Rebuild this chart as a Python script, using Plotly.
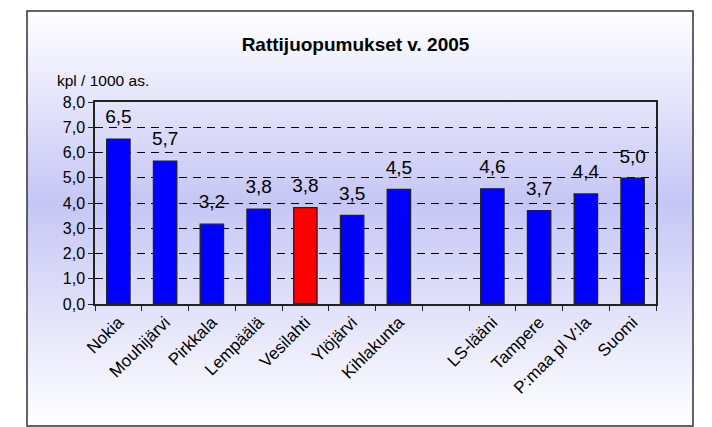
import base64
import plotly.graph_objects as go

# data
kunnat = ["Nokia", "Mouhijärvi", "Pirkkala", "Lempäälä", "Vesilahti", "Ylöjärvi",
          "Kihlakunta", " ", "LS-lääni", "Tampere", "P:maa pl V:la", "Suomi"]
arvot = [6.53, 5.66, 3.16, 3.76, 3.82, 3.51, 4.54, None, 4.56, 3.70, 4.36, 4.98]
korostus = "Vesilahti"
y_ticks = [0, 1, 2, 3, 4, 5, 6, 7, 8]

varit = ["#ff0000" if k == korostus else "#0000ff" for k in kunnat]
tekstit = ["" if v is None else f"{v:.1f}".replace(".", ",") for v in arvot]

# pixel layout (page has an 8px body margin, so figure coords = picture coords - 8)
W, H = 712, 427
OFF = 8
L, R, T, B = 95 - OFF, 656 - OFF, 102 - OFF, 304 - OFF
pw, ph = R - L, B - T
def px(x): return (x - OFF - L) / pw
def py(y): return (B - (y - OFF)) / ph

svg = ('<svg xmlns="http://www.w3.org/2000/svg" width="100" height="100" viewBox="0 0 100 100" '
       'preserveAspectRatio="none"><defs><linearGradient id="g" x1="0" y1="0" x2="0" y2="1">'
       '<stop offset="0" stop-color="#ffffff"/><stop offset="0.46" stop-color="#c6c6f6"/>'
       '<stop offset="1" stop-color="#ffffff"/></linearGradient></defs>'
       '<rect width="100" height="100" fill="url(#g)"/></svg>')
gradient = "data:image/svg+xml;base64," + base64.b64encode(svg.encode()).decode()

fig = go.Figure()
fig.add_trace(go.Bar(
    x=kunnat, y=arvot,
    marker=dict(color=varit, line=dict(color="#222222", width=1.3)),
    width=0.5,
    hoverinfo="x+y",
))
# value labels on a shifted copy of the y axis so they sit a bit above the bars
shift = 11 / ph * 8
fig.add_trace(go.Scatter(
    x=kunnat, y=arvot, yaxis="y2",
    mode="text", text=tekstit, textposition="top center",
    textfont=dict(family="Liberation Sans, Arial", size=19, color="black"),
    cliponaxis=False, hoverinfo="skip",
))

fig.update_layout(
    width=W, height=H,
    margin=dict(l=L, r=W - R, t=T, b=H - B),
    paper_bgcolor="white", plot_bgcolor="white",
    showlegend=False,
    font=dict(family="Liberation Sans, Arial", color="black"),
    title=dict(text="Rattijuopumukset v. 2005", x=(355.5 - OFF) / W, xanchor="center",
               y=1 - (44 - OFF) / H, yanchor="middle",
               font=dict(size=19, weight="bold", color="black")),
    xaxis=dict(
        type="category", categoryorder="array", categoryarray=kunnat,
        range=[-0.5, len(kunnat) - 0.5],
        showline=True, linecolor="#222222", linewidth=1.5, mirror=True,
        ticks="outside", tickson="boundaries", ticklen=5, tickcolor="#222222",
        tickangle=-45, tickfont=dict(size=17, color="black"),
        showgrid=False,
    ),
    yaxis=dict(
        range=[0, 8], tickvals=y_ticks, tickformat=".1f",
        showline=True, linecolor="#222222", linewidth=1.5, mirror=True,
        ticks="outside", ticklen=5, tickcolor="#222222",
        tickfont=dict(size=16, color="black"),
        showgrid=True, gridcolor="black", gridwidth=1, griddash="8px,6px",
        zeroline=False,
    ),
    yaxis2=dict(overlaying="y", range=[-shift, 8 - shift], visible=False),
    separators=", ",
    images=[dict(source=gradient, xref="paper", yref="paper",
                 x=px(27), y=py(11), sizex=px(693) - px(27), sizey=py(11) - py(426),
                 xanchor="left", yanchor="top", sizing="stretch", layer="below")],
    shapes=[dict(type="rect", xref="paper", yref="paper",
                 x0=px(27), x1=px(693), y0=py(426), y1=py(11),
                 line=dict(color="#333333", width=1.5), layer="below")],
    annotations=[dict(text="kpl / 1000 as.", xref="paper", yref="paper",
                      x=px(55), y=py(81), xanchor="left", yanchor="middle",
                      showarrow=False, font=dict(size=15.5, color="black"))],
)

fig.write_html("out.html")
